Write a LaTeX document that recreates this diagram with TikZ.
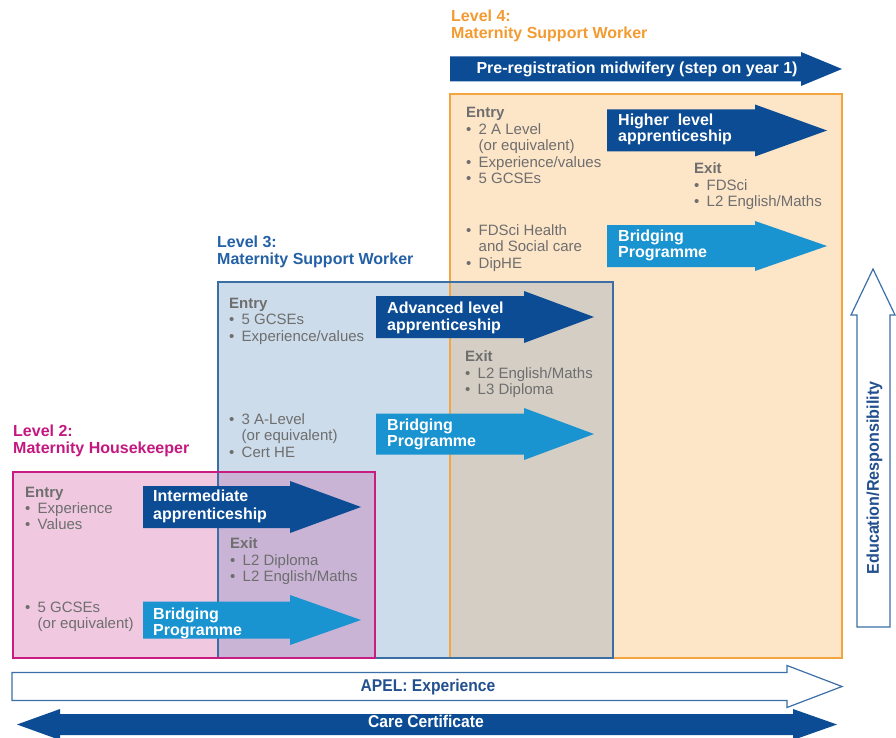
\documentclass[tikz,border=0pt]{standalone}
\usepackage{fontspec}
\setmainfont{Liberation Sans}
\usepackage{graphicx}
\definecolor{pinkfill}{HTML}{F0C9E1}
\definecolor{pinkline}{HTML}{C81C83}
\definecolor{bluefill}{HTML}{CCDCEB}
\definecolor{blueline}{HTML}{3A6EA5}
\definecolor{orangefill}{HTML}{FDE5C8}
\definecolor{orangeline}{HTML}{F5A540}
\definecolor{purpleov}{HTML}{C9B4D6}
\definecolor{greyov}{HTML}{D4CEC5}
\definecolor{darkarrow}{HTML}{0B4C95}
\definecolor{lightarrow}{HTML}{1A93D1}
\definecolor{txtgray}{HTML}{6E6E6E}
\definecolor{headpink}{HTML}{C4177F}
\definecolor{headblue}{HTML}{2360A5}
\definecolor{headorange}{HTML}{F39A30}
\definecolor{navytext}{HTML}{23508F}
\definecolor{arrline}{HTML}{3C6FA8}
% right-pointing block arrow: x0, xbase, xtip, ymid, bodyhalf, headhalf, style
\newcommand\blockarrow[7]{%
  \path[#7] (#1,#4-#5) -- (#2,#4-#5) -- (#2,#4-#6) -- (#3,#4) -- (#2,#4+#6)
    -- (#2,#4+#5) -- (#1,#4+#5) -- cycle;}
\newcommand\bl{\makebox[12.5pt][l]{\textbullet}}
\newcommand\ind{\hspace*{12.5pt}}
\tikzset{
  body/.style={font=\fontsize{15}{16.5}\selectfont, text=txtgray, anchor=base west, inner sep=0pt},
  bodyb/.style={body, font=\bfseries\fontsize{15}{16.5}\selectfont},
  lab/.style={font=\bfseries\fontsize{16}{17}\selectfont, text=white, anchor=base west, inner sep=0pt},
  head/.style={font=\bfseries\fontsize{16}{17}\selectfont, anchor=base west, inner sep=0pt},
  boxline/.style={line width=1.3pt},
}
\begin{document}
\begin{tikzpicture}[x=1pt,y=-1pt]
\useasboundingbox (0,0) rectangle (896,738);
% box fills
\fill[pinkfill] (13,472) rectangle (375,658);
\fill[bluefill] (218,282) rectangle (613,658);
\fill[orangefill] (450,94) rectangle (842,658);
\fill[purpleov] (218,472) rectangle (375,658);
\fill[greyov] (450,282) rectangle (613,658);
% box borders
\draw[boxline, orangeline] (450,94) rectangle (842,658);
\draw[boxline, blueline] (218,282) rectangle (613,658);
\draw[boxline, pinkline] (13,472) rectangle (375,658);

% headings
\node[head, text=headpink] (h2a) at (13,436.5) {Level 2:};
\node[head, text=headpink] (h2b) at (13,453) {Maternity Housekeeper};
\node[head, text=headblue] (h3a) at (217,247) {Level 3:};
\node[head, text=headblue] (h3b) at (217,264) {Maternity Support Worker};
\node[head, text=headorange] (h4a) at (451,22) {Level 4:};
\node[head, text=headorange] (h4b) at (451,38.5) {Maternity Support Worker};

% arrows
\blockarrow{450}{801}{842}{69}{12.5}{17}{fill=darkarrow}
\node[font=\bfseries\fontsize{16}{17}\selectfont, text=white, inner sep=0pt, anchor=base] (prereg) at (637,73.5) {Pre-registration midwifery (step on year 1)};

\blockarrow{607}{755}{827}{130.5}{21}{26}{fill=darkarrow}
\node[lab] (hl1) at (618,126) {Higher\ \ level};
\node[lab] (hl2) at (618,142) {apprenticeship};
\blockarrow{607}{755}{827}{246}{21}{25}{fill=lightarrow}
\node[lab] (b41) at (618,241.5) {Bridging};
\node[lab] (b42) at (618,257.5) {Programme};

\blockarrow{376}{524}{594}{317}{21}{26}{fill=darkarrow}
\node[lab] (al1) at (387,313) {Advanced level};
\node[lab] (al2) at (387,330) {apprenticeship};
\blockarrow{376}{524}{594}{434}{20.5}{26}{fill=lightarrow}
\node[lab] (b31) at (387,430) {Bridging};
\node[lab] (b32) at (387,446.5) {Programme};

\blockarrow{143}{290}{361}{507}{21}{26}{fill=darkarrow}
\node[lab] (ia1) at (153,501.5) {Intermediate};
\node[lab] (ia2) at (153,519) {apprenticeship};
\blockarrow{143}{290}{361}{620}{18.5}{25}{fill=lightarrow}
\node[lab] (b21) at (153,619) {Bridging};
\node[lab] (b22) at (153,635.5) {Programme};

% Level 2 texts
\node[bodyb] (e2) at (25,497) {Entry};
\node[body] (e2a) at (25,513) {\bl Experience};
\node[body] (e2b) at (25,529.5) {\bl Values};
\node[body] (g2a) at (25,612) {\bl 5 GCSEs};
\node[body] (g2b) at (25,628.5) {\ind(or equivalent)};
\node[bodyb] (x2) at (230,548) {Exit};
\node[body] (x2a) at (230,565) {\bl L2 Diploma};
\node[body] (x2b) at (230,581.5) {\bl L2 English/Maths};

% Level 3 texts
\node[bodyb] (e3) at (229,308.5) {Entry};
\node[body] (e3a) at (229,324.5) {\bl 5 GCSEs};
\node[body] (e3b) at (229,341) {\bl Experience/values};
\node[body] (g3a) at (229,424) {\bl 3 A-Level};
\node[body] (g3b) at (229,440.5) {\ind(or equivalent)};
\node[body] (g3c) at (229,457) {\bl Cert HE};
\node[bodyb] (x3) at (465,361.5) {Exit};
\node[body] (x3a) at (465,378) {\bl L2 English/Maths};
\node[body] (x3b) at (465,394.5) {\bl L3 Diploma};

% Level 4 texts
\node[bodyb] (e4) at (466,118) {Entry};
\node[body] (e4a) at (466,134.5) {\bl 2 A Level};
\node[body] (e4b) at (466,151) {\ind(or equivalent)};
\node[body] (e4c) at (466,167.5) {\bl Experience/values};
\node[body] (e4d) at (466,184) {\bl 5 GCSEs};
\node[body] (g4a) at (466,235) {\bl FDSci Health};
\node[body] (g4b) at (466,251.5) {\ind and Social care};
\node[body] (g4c) at (466,268) {\bl DipHE};
\node[bodyb] (x4) at (694,173.5) {Exit};
\node[body] (x4a) at (694,190) {\bl FDSci};
\node[body] (x4b) at (694,206.5) {\bl L2 English/Maths};

% APEL arrow
\blockarrow{12}{787}{842}{686.5}{14}{21}{fill=white, draw=arrline, line width=1.2pt}
\node[font=\bfseries\fontsize{17}{18}\selectfont, text=navytext, inner sep=0pt, anchor=base] (apel) at (428,691.5) {\scalebox{0.92}[1]{APEL: Experience}};

% Care certificate double arrow
\fill[darkarrow] (17,724.5) -- (60,709) -- (60,714) -- (793,714) -- (793,709) -- (837,724.5)
  -- (793,740) -- (793,735) -- (60,735) -- (60,740) -- cycle;
\node[font=\bfseries\fontsize{17}{18}\selectfont, text=white, inner sep=0pt, anchor=base] (care) at (426,727.5) {\scalebox{0.92}[1]{Care Certificate}};

% Education / Responsibility arrow
\filldraw[fill=white, draw=arrline, line width=1.2pt] (857,627) -- (857,315) -- (851,315) -- (873,269)
  -- (895,315) -- (890,315) -- (890,627) -- cycle;
\node[font=\bfseries\fontsize{17}{18}\selectfont, text=navytext, inner sep=0pt, rotate=90] (edu) at (874.5,478) {\scalebox{0.95}[1]{Education/Responsibility}};
\end{tikzpicture}
\end{document}
